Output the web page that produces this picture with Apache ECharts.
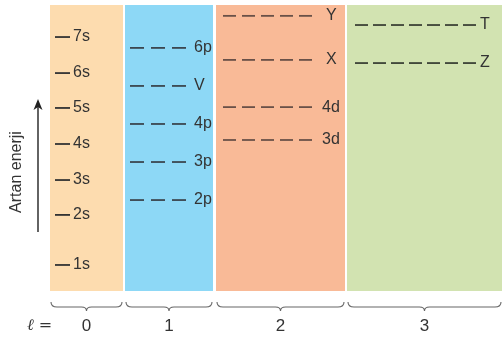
<!DOCTYPE html>
<html><head><meta charset="utf-8">
<script src="https://cdn.jsdelivr.net/npm/echarts@6/dist/echarts.min.js"></script>
<style>html,body{margin:0;padding:0;background:#fff}#c{width:502px;height:340px}</style>
</head><body><div id="c"></div>
<script>
// ---- data (energy on a 0-100 relative scale) ----
var lValues = ['0', '1', '2', '3'];
var sLabels = ['1s', '2s', '3s', '4s', '5s', '6s', '7s'];
var sEnergy = [9.1, 26.6, 38.8, 51.4, 64.0, 76.2, 88.8];
var pLabels = ['2p', '3p', '4p', 'V', '6p'];
var pEnergy = [31.8, 45.1, 58.4, 71.7, 85.0];
var dLabels = ['3d', '4d', 'X', 'Y'];
var dEnergy = [52.8, 64.3, 80.8, 96.2];
var fLabels = ['Z', 'T'];
var fEnergy = [79.7, 93.0];

// ---- layout (x axis units = pixels inside grid) ----
var cols = [
  {x0: 0, x1: 73, color: '#FDDCAF', dashStart: 5, n: 1, dash: 15, gap: 0, lgap: 3, line: '#333'},
  {x0: 75, x1: 163, color: '#8DD8F6', dashStart: 80, n: 3, dash: 14, gap: 7, lgap: 8, line: '#3b4750'},
  {x0: 166, x1: 295, color: '#F9BA97', dashStart: 173, n: 5, dash: 13, gap: 6, lgap: 10, line: '#6a5148'},
  {x0: 297, x1: 452, color: '#D2E3B1', dashStart: 305, n: 7, dash: 13, gap: 5, lgap: 4, line: '#3c4236'}
];
var FONT = '16px "Liberation Sans", Arial, sans-serif';

var levelData = [];
[[sLabels, sEnergy], [pLabels, pEnergy], [dLabels, dEnergy], [fLabels, fEnergy]].forEach(function (g, ci) {
  g[0].forEach(function (lab, i) { levelData.push([ci, g[1][i], lab]); });
});

function bgItem(params, api) {
  var c = cols[api.value(0)];
  var p0 = api.coord([c.x0, 100]);
  var p1 = api.coord([c.x1, 0]);
  var children = [{type: 'rect', shape: {x: p0[0], y: p0[1], width: p1[0] - p0[0], height: p1[1] - p0[1]}, style: {fill: c.color}}];
  // brace below column
  var xa = p0[0] + 1, xb = p1[0] - 1, yt = p1[1] + 11, ym = yt + 5, mid = (xa + xb) / 2;
  var path = 'M' + xa + ' ' + yt + ' Q' + xa + ' ' + ym + ' ' + (xa + 6) + ' ' + ym +
    ' L' + (mid - 5) + ' ' + ym + ' Q' + mid + ' ' + ym + ' ' + mid + ' ' + (ym + 4) +
    ' Q' + mid + ' ' + ym + ' ' + (mid + 5) + ' ' + ym +
    ' L' + (xb - 6) + ' ' + ym + ' Q' + xb + ' ' + ym + ' ' + xb + ' ' + yt;
  children.push({type: 'path', shape: {pathData: path}, style: {stroke: '#666', fill: null, lineWidth: 1.1}});
  children.push({type: 'text', style: {text: lValues[api.value(0)], x: mid, y: p1[1] + 35, align: 'center', verticalAlign: 'middle',
    fill: '#333', font: '17px "Liberation Sans", Arial, sans-serif'}});
  return {type: 'group', children: children};
}

function levelItem(params, api) {
  var ci = api.value(0), c = cols[ci];
  var e = api.value(1);
  var children = [];
  var x = c.dashStart;
  for (var k = 0; k < c.n; k++) {
    var a = api.coord([x, e]), b = api.coord([x + c.dash, e]);
    children.push({type: 'line', shape: {x1: a[0], y1: a[1], x2: b[0], y2: b[1]}, style: {stroke: c.line, lineWidth: 1.8}});
    x += c.dash + c.gap;
  }
  var endX = c.dashStart + c.n * c.dash + (c.n - 1) * c.gap;
  var lab = levelData[params.dataIndex][2];
  var extra = (lab === 'X' || lab === 'Y') ? 4 : 0;
  var t = api.coord([endX + c.lgap + extra, e]);
  children.push({type: 'text', style: {text: lab, x: t[0], y: t[1], align: 'left', verticalAlign: 'middle',
    fill: '#333', font: FONT}});
  return {type: 'group', children: children};
}

var chart = echarts.init(document.getElementById('c'), null, {renderer: 'canvas'});
chart.setOption({
  animation: false,
  grid: {left: 50, right: 0, top: 5, bottom: 49},
  xAxis: {type: 'value', min: 0, max: 452, show: false},
  yAxis: {type: 'value', min: 0, max: 100, show: false},
  graphic: [
    {type: 'line', shape: {x1: 38, y1: 232, x2: 38, y2: 106}, style: {stroke: '#222', lineWidth: 1.4}},
    {type: 'polygon', shape: {points: [[38, 99], [33.5, 110], [38, 107], [42.5, 110]]}, style: {fill: '#222'}},
    {type: 'text', x: 17, y: 172, rotation: Math.PI / 2, style: {text: 'Artan enerji', align: 'center', verticalAlign: 'middle',
      fill: '#333', font: '16px "Liberation Sans", Arial, sans-serif'}},
    {type: 'text', x: 27, y: 326, style: {text: 'ℓ =', align: 'left', verticalAlign: 'middle',
      fill: '#333', font: 'italic 16px "DejaVu Serif", serif'}}
  ],
  series: [
    {type: 'custom', renderItem: bgItem, data: [[0], [1], [2], [3]], clip: false, silent: true},
    {type: 'custom', renderItem: levelItem, data: levelData, clip: false, silent: true, z: 3}
  ]
});
</script></body></html>
